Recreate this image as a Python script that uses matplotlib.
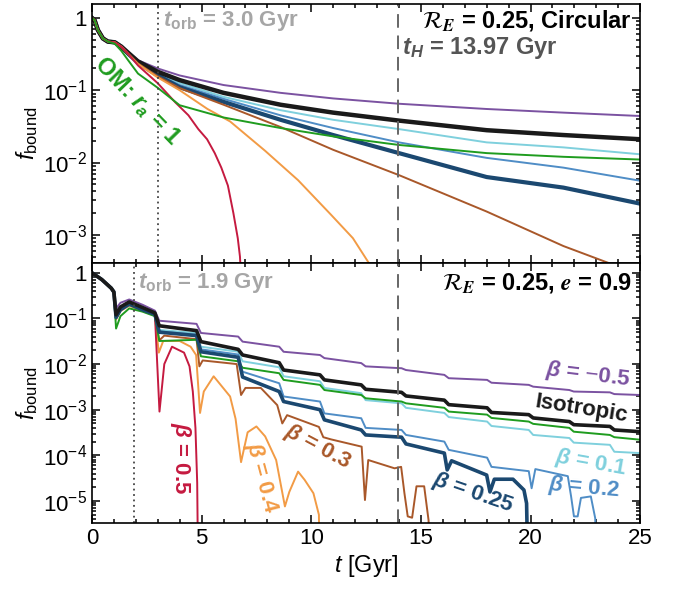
import matplotlib
matplotlib.use("Agg")
import matplotlib.pyplot as plt
import numpy as np
from matplotlib.ticker import FuncFormatter, LogLocator, MultipleLocator, NullFormatter

plt.rcParams['font.family'] = ['Liberation Sans', 'DejaVu Sans']
plt.rcParams['mathtext.fontset'] = 'custom'
plt.rcParams['mathtext.rm'] = 'Liberation Sans'
plt.rcParams['mathtext.it'] = 'Liberation Sans:italic'
plt.rcParams['mathtext.bf'] = 'Liberation Sans:bold'
plt.rcParams['mathtext.bfit'] = 'Liberation Sans:bold:italic'

# colours
c_m05 = '#7b52a1'
c_iso = '#1a1a1a'
c_01 = '#7fd0dd'
c_02 = '#4f8dc6'
c_025 = '#1b4870'
c_03 = '#a9582a'
c_04 = '#f29b45'
c_05 = '#c51a40'
c_om = '#1f9c1f'

# ---------------- circular orbit (top) ----------------
t_circ = [0, 0.12, 0.27, 0.5, 0.73, 1.04, 1.34, 1.65, 2.1, 3.0, 4.0, 6.0, 8.6, 11.0, 14.0, 18.0, 21.5, 25.0]
circ_m05 = [1.0, 0.93, 0.68, 0.52, 0.47, 0.46, 0.41, 0.34, 0.26, 0.20, 0.16, 0.118, 0.092, 0.077, 0.065, 0.055, 0.049, 0.044]
circ_iso = [1.0, 0.93, 0.68, 0.52, 0.47, 0.46, 0.40, 0.33, 0.25, 0.18, 0.138, 0.092, 0.063, 0.049, 0.038, 0.028, 0.024, 0.021]
circ_01 = [1.0, 0.93, 0.68, 0.52, 0.47, 0.46, 0.40, 0.33, 0.245, 0.17, 0.126, 0.081, 0.053, 0.039, 0.029, 0.019, 0.0162, 0.013]
circ_02 = [1.0, 0.93, 0.68, 0.52, 0.47, 0.46, 0.40, 0.33, 0.24, 0.165, 0.118, 0.076, 0.045, 0.030, 0.019, 0.0116, 0.0085, 0.0056]
circ_025 = [1.0, 0.93, 0.68, 0.52, 0.47, 0.46, 0.40, 0.32, 0.24, 0.16, 0.11, 0.069, 0.039, 0.024, 0.0135, 0.0063, 0.0045, 0.0027]
circ_03 = [1.0, 0.93, 0.68, 0.52, 0.47, 0.46, 0.40, 0.32, 0.235, 0.155, 0.107, 0.063, 0.031, 0.015, 0.0067, 0.0021, 0.0007, 0.00028]
circ_om = [1.0, 0.93, 0.68, 0.52, 0.47, 0.44, 0.35, 0.26, 0.17, 0.108, 0.062, 0.042, 0.030, 0.023, 0.0175, 0.0135, 0.012, 0.011]

t_circ_04 = [0, 0.12, 0.27, 0.5, 0.73, 1.04, 1.34, 1.65, 2.1, 3.0, 4.0, 5.27, 6.3, 7.9, 9.4, 10.9, 11.9, 12.6, 13.0]
circ_04 = [1.0, 0.93, 0.68, 0.52, 0.47, 0.46, 0.40, 0.32, 0.23, 0.15, 0.10, 0.055, 0.037, 0.0145, 0.0057, 0.0019, 0.0009, 0.00042, 0.0003]

t_circ_05 = [0, 0.12, 0.27, 0.5, 0.73, 1.04, 1.34, 1.65, 2.1, 3.0, 3.8, 4.4, 4.85, 5.25, 5.6, 5.9, 6.2, 6.45, 6.65, 6.75, 6.82]
circ_05 = [1.0, 0.93, 0.68, 0.52, 0.47, 0.46, 0.40, 0.32, 0.22, 0.125, 0.068, 0.045, 0.029, 0.021, 0.0135, 0.0085, 0.0048, 0.002, 0.0009, 0.0005, 0.0002]

# ---------------- e = 0.9 orbit (bottom) ----------------
t_ecc = [0, 0.45, 0.88, 1.0, 1.1, 1.3, 1.7, 2.3, 2.87, 3.07, 4.77, 4.97, 6.67, 6.87, 8.54, 8.74,
         10.4, 10.6, 12.28, 12.48, 14.12, 14.32, 16.07, 16.27, 18.02, 18.22, 19.92, 20.12,
         21.77, 21.97, 23.62, 23.82, 25.0]
ecc_m05 = [1.0, 0.71, 0.46, 0.40, 0.166, 0.22, 0.26, 0.20, 0.148, 0.089, 0.076, 0.048, 0.040, 0.031,
           0.024, 0.0186, 0.0158, 0.0135, 0.0105, 0.0089, 0.0081, 0.0074, 0.0058, 0.0049, 0.0045,
           0.0039, 0.0035, 0.0032, 0.0027, 0.0025, 0.0024, 0.0022, 0.0021]
ecc_iso = [1.0, 0.71, 0.46, 0.38, 0.12, 0.178, 0.23, 0.174, 0.132, 0.069, 0.054, 0.031, 0.021, 0.0158,
           0.0107, 0.0074, 0.0058, 0.0045, 0.0035, 0.0028, 0.0024, 0.0020, 0.00162, 0.00129, 0.0011,
           0.00087, 0.00078, 0.00066, 0.00055, 0.00047, 0.00043, 0.00036, 0.00033]
ecc_om = [1.0, 0.71, 0.46, 0.355, 0.060, 0.112, 0.166, 0.141, 0.112, 0.032, 0.034, 0.0148, 0.0115, 0.0083,
          0.0063, 0.0045, 0.0035, 0.0027, 0.0021, 0.00178, 0.00151, 0.00138, 0.0011, 0.00091, 0.00078,
          0.00066, 0.00055, 0.00049, 0.0004, 0.00033, 0.00028, 0.00025, 0.00022]
ecc_01 = [1.0, 0.71, 0.46, 0.38, 0.112, 0.166, 0.22, 0.166, 0.129, 0.056, 0.048, 0.024, 0.0186, 0.0115,
          0.0085, 0.0054, 0.0042, 0.0030, 0.0023, 0.00162, 0.00138, 0.0011, 0.00085, 0.00069, 0.00055,
          0.00044, 0.00036, 0.00028, 0.00024, 0.00019, 0.00017, 0.00012, 0.000112]

t_ecc_02 = [0, 0.45, 0.88, 1.0, 1.1, 1.3, 1.7, 2.3, 2.87, 3.07, 4.77, 4.97, 6.67, 6.87, 8.54, 8.74,
            10.4, 10.6, 12.28, 12.48, 14.12, 14.32, 16.07, 16.27, 18.02, 18.22, 19.92, 20.05, 20.22,
            21.7, 21.85, 21.98, 22.15, 22.3, 22.75, 22.95, 23.05]
ecc_02 = [1.0, 0.71, 0.46, 0.38, 0.107, 0.16, 0.21, 0.16, 0.126, 0.052, 0.044, 0.021, 0.0162, 0.0068,
          0.0038, 0.00195, 0.00151, 0.00083, 0.00065, 0.0004, 0.00036, 0.00028, 0.0002, 0.000132,
          8.9e-5, 5.6e-5, 4.5e-5, 1.9e-5, 5.0e-5, 3.5e-5, 1.26e-5, 4.6e-6, 4.6e-6, 1.17e-5, 1.26e-5,
          4.2e-6, 1e-7]

t_ecc_025 = [0, 0.45, 0.88, 1.0, 1.1, 1.3, 1.7, 2.3, 2.87, 3.07, 4.77, 4.97, 6.67, 6.87, 8.54, 8.74,
             10.4, 10.6, 12.28, 12.48, 14.12, 14.32, 16.07, 16.2, 16.4, 18.0, 18.15, 18.35, 19.2,
             19.7, 19.82, 19.9]
ecc_025 = [1.0, 0.71, 0.46, 0.38, 0.105, 0.155, 0.205, 0.155, 0.123, 0.050, 0.042, 0.0186, 0.0141,
           0.0052, 0.0025, 0.00151, 0.001, 0.0006, 0.00036, 0.00028, 0.00025, 0.000178, 0.000112,
           4.8e-5, 7.6e-5, 3.7e-5, 1.58e-5, 3.0e-5, 3.0e-5, 1.74e-5, 8.9e-6, 1e-7]

t_ecc_03 = [0, 0.45, 0.88, 1.0, 1.1, 1.3, 1.7, 2.3, 2.87, 3.07, 3.3, 4.77, 4.9, 5.05, 6.6, 6.8, 7.0,
            7.7, 8.45, 8.68, 8.9, 10.35, 10.55, 10.9, 12.3, 12.45, 12.6, 13.8, 14.1, 14.25, 14.4,
            14.6, 14.8, 15.15, 15.35, 15.45]
ecc_03 = [1.0, 0.71, 0.46, 0.38, 0.10, 0.15, 0.20, 0.15, 0.12, 0.033, 0.042, 0.035, 0.0089, 0.012,
          0.010, 0.0021, 0.003, 0.003, 0.00126, 0.0005, 0.00076, 0.00042, 0.00025, 0.000224,
          0.000155, 1.05e-5, 7.9e-5, 5.2e-5, 5.6e-5, 1.48e-5, 4.6e-6, 4.3e-6, 2.1e-5, 2.1e-5,
          3.8e-6, 1e-7]

t_ecc_04 = [0, 0.45, 0.88, 1.0, 1.1, 1.3, 1.7, 2.3, 2.87, 3.05, 3.25, 4.0, 4.5, 4.75, 4.93, 5.1, 5.55,
            6.3, 6.55, 6.8, 7.1, 7.5, 7.9, 8.4, 8.8, 9.0, 9.4, 9.7, 10.1, 10.35, 10.4]
ecc_04 = [1.0, 0.71, 0.46, 0.37, 0.095, 0.145, 0.19, 0.145, 0.115, 0.0178, 0.032, 0.032, 0.024,
          0.0158, 0.00085, 0.0025, 0.0054, 0.00195, 0.00063, 7.1e-5, 0.00032, 0.00043, 0.00026,
          7.9e-5, 7.6e-6, 1.58e-5, 4.4e-5, 2.9e-5, 1.48e-5, 5e-6, 1e-7]

t_ecc_05 = [0, 0.45, 0.88, 1.0, 1.1, 1.3, 1.7, 2.3, 2.87, 3.08, 3.3, 3.65, 4.2, 4.45, 4.6, 4.72, 4.8, 4.85]
ecc_05 = [1.0, 0.71, 0.46, 0.36, 0.10, 0.15, 0.21, 0.16, 0.125, 0.00091, 0.01, 0.024, 0.0178, 0.0089,
          0.0025, 0.0004, 2.5e-5, 1e-7]

t_orb_circ = 3.0
t_orb_ecc = 1.9
t_hubble = 13.97


def log_label(v, pos):
    if v <= 0:
        return ''
    e = int(round(np.log10(v)))
    if abs(np.log10(v) - e) > 1e-6:
        return ''
    if e == 0:
        return '1'
    return r'$10^{%d}$' % e


fig = plt.figure(figsize=(6.76, 5.92), dpi=100)
ax1 = fig.add_axes([0.136, 0.556, 0.811, 0.437])
ax2 = fig.add_axes([0.136, 0.1166, 0.811, 0.4394])

thin = 1.4
for ax in (ax1, ax2):
    ax.set_yscale('log')
    ax.set_xlim(0, 25)
    ax.xaxis.set_major_locator(MultipleLocator(5))
    ax.xaxis.set_minor_locator(MultipleLocator(1))
    ax.yaxis.set_major_locator(LogLocator(base=10, numticks=20))
    ax.yaxis.set_minor_locator(LogLocator(base=10, subs=np.arange(2, 10), numticks=20))
    ax.yaxis.set_major_formatter(FuncFormatter(log_label))
    ax.yaxis.set_minor_formatter(NullFormatter())
    ax.tick_params(which='both', direction='in', top=True, right=True, labelsize=16, width=1.1)
    ax.tick_params(which='major', length=6)
    ax.tick_params(which='minor', length=3)
    for s in ax.spines.values():
        s.set_linewidth(1.2)
    ax.set_ylabel(r'$f_{\rm bound}$', fontsize=17, labelpad=2)

ax1.set_ylim(4.1e-4, 1.55)
ax2.set_ylim(3.3e-6, 1.65)
ax1.tick_params(labelbottom=False)

# top panel
ax1.plot(t_circ, circ_m05, color=c_m05, lw=thin)
ax1.plot(t_circ, circ_01, color=c_01, lw=thin)
ax1.plot(t_circ, circ_02, color=c_02, lw=thin)
ax1.plot(t_circ, circ_025, color=c_025, lw=3.0)
ax1.plot(t_circ, circ_iso, color=c_iso, lw=3.2)
ax1.plot(t_circ, circ_03, color=c_03, lw=thin)
ax1.plot(t_circ_04, circ_04, color=c_04, lw=thin)
ax1.plot(t_circ_05, circ_05, color=c_05, lw=thin)
ax1.plot(t_circ, circ_om, color=c_om, lw=thin)

# bottom panel
ax2.plot(t_ecc, ecc_m05, color=c_m05, lw=thin)
ax2.plot(t_ecc, ecc_01, color=c_01, lw=thin)
ax2.plot(t_ecc_02, ecc_02, color=c_02, lw=thin)
ax2.plot(t_ecc_03, ecc_03, color=c_03, lw=thin)
ax2.plot(t_ecc_04, ecc_04, color=c_04, lw=thin)
ax2.plot(t_ecc_05, ecc_05, color=c_05, lw=thin)
ax2.plot(t_ecc, ecc_om, color=c_om, lw=thin)
ax2.plot(t_ecc_025, ecc_025, color=c_025, lw=2.6)
ax2.plot(t_ecc, ecc_iso, color=c_iso, lw=2.6)

for ax, torb in ((ax1, t_orb_circ), (ax2, t_orb_ecc)):
    ax.axvline(torb, color='#444444', ls=(0, (1, 2)), lw=1.3)
    ax.axvline(t_hubble, color='#666666', ls=(0, (7, 4)), lw=1.4)

bold = dict(fontweight='bold', fontsize=16)
ax1.text(0.130, 0.935, r'$\mathbfit{t}_{\mathbf{orb}}$ = 3.0 Gyr', transform=ax1.transAxes,
         color='#a6a6a6', ha='left', va='center', **bold)
ax1.text(0.985, 0.935, r'$\mathcal{R}_{\mathbfit{E}}$ = 0.25, Circular', transform=ax1.transAxes,
         color='black', ha='right', va='center', math_fontfamily='stix',
         fontweight='bold', fontsize=17)
ax1.text(0.566, 0.83, r'$\mathbfit{t}_{\mathbfit{H}}$ = 13.97 Gyr', transform=ax1.transAxes,
         color='#555555', ha='left', va='center', fontweight='bold', fontsize=17)
ax1.text(0.083, 0.625, r'OM: $\mathbfit{r}_{\mathbfit{a}}$ = 1', transform=ax1.transAxes,
         color=c_om, ha='center', va='center', rotation=-46, fontweight='bold', fontsize=17)

ax2.text(0.084, 0.923, r'$\mathbfit{t}_{\mathbf{orb}}$ = 1.9 Gyr', transform=ax2.transAxes,
         color='#a6a6a6', ha='left', va='center', **bold)
ax2.text(0.985, 0.923, r'$\mathcal{R}_{\mathbfit{E}}$ = 0.25, $\mathbfit{e}$ = 0.9', transform=ax2.transAxes,
         color='black', ha='right', va='center', math_fontfamily='stix',
         fontweight='bold', fontsize=17)

labels = [
    (r'$\mathbfit{\beta}$ = $-$0.5', 0.905, 0.569, -7, c_m05),
    ('Isotropic', 0.892, 0.440, -9, c_iso),
    (r'$\mathbfit{\beta}$ = 0.1', 0.910, 0.231, -10, c_01),
    (r'$\mathbfit{\beta}$ = 0.2', 0.898, 0.135, -5, c_02),
    (r'$\mathbfit{\beta}$ = 0.25', 0.695, 0.115, -19, c_025),
    (r'$\mathbfit{\beta}$ = 0.3', 0.412, 0.292, -28, c_03),
    (r'$\mathbfit{\beta}$ = 0.4', 0.310, 0.173, -75, c_04),
    (r'$\mathbfit{\beta}$ = 0.5', 0.161, 0.250, -90, c_05),
]
for txt, x, y, rot, col in labels:
    ax2.text(x, y, txt, transform=ax2.transAxes, color=col, ha='center', va='center',
             rotation=rot, rotation_mode='anchor', **bold)

ax2.set_xlabel(r'$t$ [Gyr]', fontsize=17, labelpad=3)

fig.savefig('out.png', dpi=100)
